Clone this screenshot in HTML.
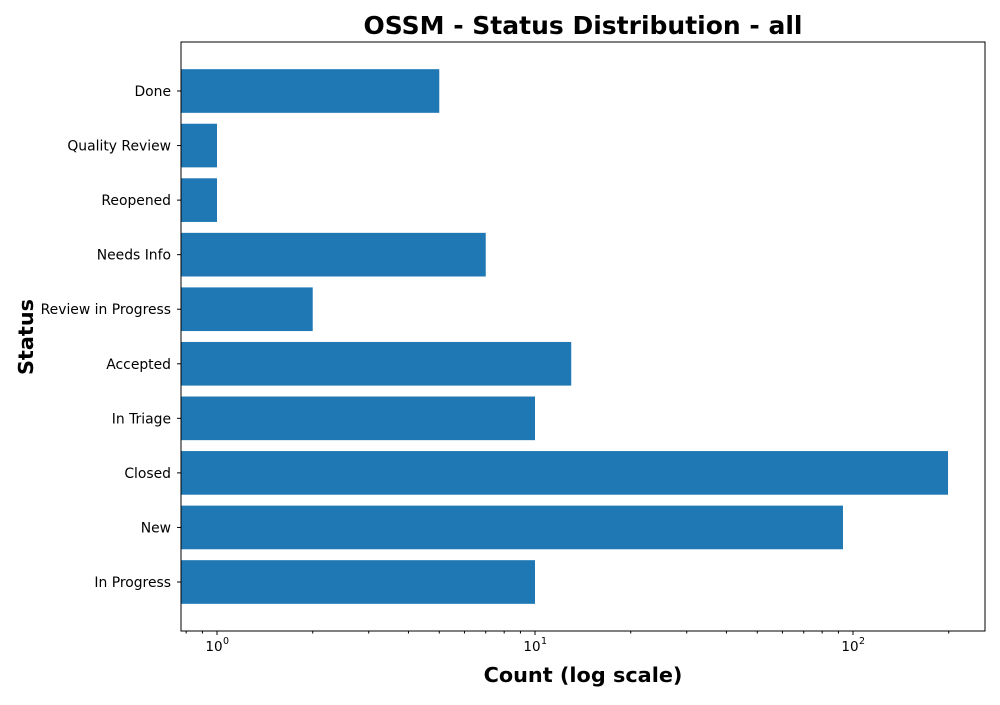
<!DOCTYPE html>
<html><head><meta charset="utf-8"><style>
body{margin:0;background:#fff;}
svg text{font-family:"DejaVu Sans","Liberation Sans",sans-serif;}
</style></head><body>
<svg id="chart" width="1000" height="700" xmlns="http://www.w3.org/2000/svg">
<text x="583" y="34" text-anchor="middle" font-size="25" font-weight="bold">OSSM - Status Distribution - all</text>
<text x="583" y="682" text-anchor="middle" font-size="20.8" font-weight="bold">Count (log scale)</text>
<text transform="translate(33,337) rotate(-90)" text-anchor="middle" font-size="20.8" font-weight="bold">Status</text>
<g id="bars"></g>
<g id="axes"></g>
</svg>
<script>
const categories=["Done","Quality Review","Reopened","Needs Info","Review in Progress","Accepted","In Triage","Closed","New","In Progress"];
const counts=[5,1,1,7,2,13,10,199,93,10];
const majorTicks=[1,10,100];
const majorLabels=["0","1","2"];
const NS="http://www.w3.org/2000/svg";
const L=181,R=985,T=42,B=631;
const x0=217,dec=318;
function xs(v){return x0+Math.log10(v)*dec;}
const n=categories.length;
function yc(i){return 91+i*(582-91)/(n-1);}
const bh=(582-91)/(n-1)*0.8;
function mk(tag,attrs,parent){const e=document.createElementNS(NS,tag);for(const k in attrs)e.setAttribute(k,attrs[k]);parent.appendChild(e);return e;}
const bars=document.getElementById('bars'),axes=document.getElementById('axes');
categories.forEach((c,i)=>{
 const r=mk('rect',{x:L,y:yc(i)-bh/2,width:xs(counts[i])-L,height:bh,fill:'#1f77b4'},bars);
 
 
 mk('line',{x1:L-4,x2:L,y1:yc(i),y2:yc(i),stroke:'#000'},axes);
 const t=mk('text',{x:L-10,y:yc(i)+5,'text-anchor':'end','font-size':'13.9'},axes);
 t.textContent=c;
 
 
});
const fr=mk('rect',{x:L,y:T,width:R-L,height:B-T,fill:'none',stroke:'#000','stroke-width':1},axes);


majorTicks.forEach((v,i)=>{
 const x=xs(v);
 mk('line',{x1:x,x2:x,y1:B,y2:B+4,stroke:'#000'},axes);
 const t=mk('text',{x:x-3,y:B+20,'text-anchor':'middle','font-size':'13.5'},axes);
 t.textContent='10';
 
 
 const s=mk('text',{x:x+6,y:B+13,'text-anchor':'start','font-size':'9.5'},axes);
 s.textContent=majorLabels[i];
});
[0.8,0.9,2,3,4,5,6,7,8,9,20,30,40,50,60,70,80,90,200].forEach(v=>{
 const x=xs(v); if(x<L||x>R)return;
 mk('line',{x1:x,x2:x,y1:B,y2:B+2.5,stroke:'#000'},axes);
});
</script>
</body></html>
